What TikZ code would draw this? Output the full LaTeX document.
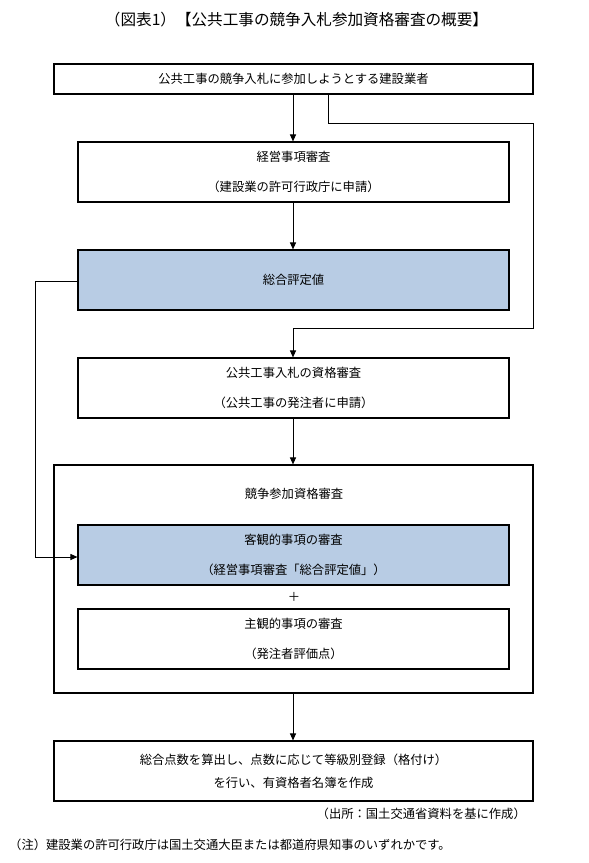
\documentclass[tikz,border=0pt]{standalone}
\usepackage{fontspec}
\setmainfont{Noto Sans CJK JP}
\usetikzlibrary{arrows.meta}
\definecolor{boxblue}{HTML}{B8CCE4}
\tikzset{
  box/.style={draw=black, line width=1.1pt, rectangle, inner sep=0pt, align=center,
    font=\fontsize{12.3pt}{29.5pt}\selectfont},
  wide/.style={minimum width=479pt},
  narrow/.style={minimum width=431pt, minimum height=60pt},
  bluebox/.style={fill=boxblue},
  conn/.style={line width=1pt, -{Triangle[length=7pt,width=6pt]}},
  plain/.style={font=\fontsize{12.3pt}{14pt}\selectfont, inner sep=0pt},
}
\begin{document}
\begin{tikzpicture}[x=1pt,y=-1pt]
\useasboundingbox (0,0) rectangle (589,863);
\node[font=\fontsize{15.6pt}{18pt}\selectfont, inner sep=0pt] (title) at (296.5,20) {（図表1）【公共工事の競争入札参加資格審査の概要】};
\node[box, wide, minimum height=30pt] (b1) at (293.5,79) {公共工事の競争入札に参加しようとする建設業者};
\node[box, narrow] (b2) at (293.5,172) {経営事項審査\\（建設業の許可行政庁に申請）};
\node[box, narrow, bluebox] (bl1) at (293.5,280) {総合評定値};
\node[box, narrow] (b4) at (293.5,388) {公共工事入札の資格審査\\（公共工事の発注者に申請）};
\node[box, wide, minimum height=228pt] (big) at (293.5,579) {};
\node[plain] (bigt) at (294,494) {競争参加資格審査};
\node[box, narrow, bluebox] (bl2) at (293.5,555) {客観的事項の審査\\（経営事項審査「総合評定値」）};
\node[plain] (plus) at (294,597) {＋};
\node[box, narrow] (w3) at (293.5,639) {主観的事項の審査\\（発注者評価点）};
\node[box, wide, minimum height=60pt, font=\fontsize{12.3pt}{23pt}\selectfont] (last) at (293.5,771) {総合点数を算出し、点数に応じて等級別登録（格付け）\\を行い、有資格者名簿を作成};
\node[plain, anchor=east] (src) at (526,814) {（出所：国土交通省資料を基に作成）};
\node[plain, anchor=west] (note) at (9,845) {（注）建設業の許可行政庁は国土交通大臣または都道府県知事のいずれかです。};
\coordinate (r1) at (328,123);
\coordinate (r2) at (533,123);
\coordinate (r3) at (533,328);
\coordinate (r4) at (293,328);
\coordinate (l1) at (35.5,281);
\coordinate (l2) at (35.5,557);
\draw[conn] (b1.south -| r4) -- (b2.north -| r4);
\draw[conn] (b2.south -| r4) -- (bl1.north -| r4);
\draw[conn] (b1.south -| r1) -- (r1) -- (r2) -- (r3) -- (r4) -- (b4.north -| r4);
\draw[conn] (b4.south -| r4) -- (big.north -| r4);
\draw[conn] (big.south -| r4) -- (last.north -| r4);
\draw[conn] (bl1.west |- l1) -- (l1) -- (l2) -- (bl2.west |- l2);
\end{tikzpicture}
\end{document}
